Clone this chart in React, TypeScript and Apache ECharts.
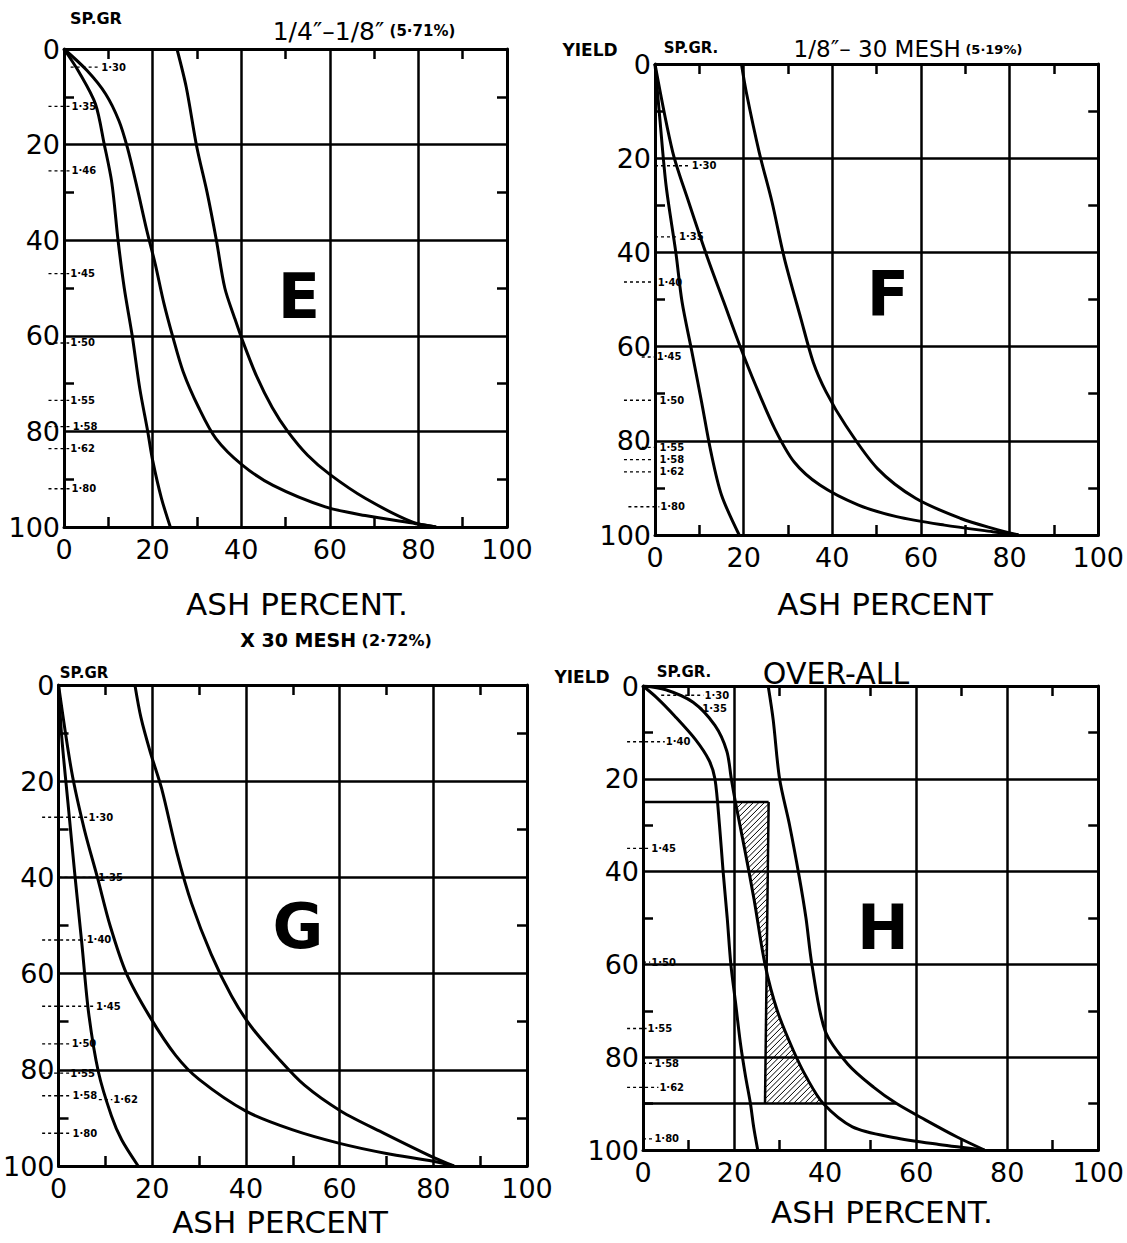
import React, { useEffect, useRef } from "react";
import * as echarts from "echarts";

// ---------- axes ----------
const ASH_MIN = 0;
const ASH_MAX = 100;
const ASH_STEP = 20;
const YIELD_MIN = 0;
const YIELD_MAX = 100;
const YIELD_STEP = 20;

// ---------- panel E : 1/4" - 1/8" ----------
const E_FLOATS = [[0, 0], [3.5, 5], [7.1, 11.5], [9.1, 20], [10.8, 28], [12.2, 40], [13.6, 50], [15.4, 60], [17.1, 71], [18.9, 80], [20, 86], [22, 94], [24, 100]];
const E_CHARACTERISTIC = [[0, 0], [5.2, 4.5], [9.4, 9.4], [12.4, 15], [14.3, 20.6], [16.5, 29], [18.7, 38], [20.6, 45], [22.5, 53], [24.5, 60], [26.9, 67.5], [30.4, 75], [34.3, 81.5], [40.2, 87], [47.2, 91.3], [59, 95.8], [68, 97.6], [79.4, 99.3], [84, 100]];
const E_SINKS = [[25.5, 0], [27.6, 8], [30, 20.6], [32.3, 30], [34.4, 40], [36.3, 50], [38.6, 56.5], [40.3, 61], [43.5, 68.5], [47, 75], [50.5, 80], [55, 85], [60, 89], [68, 94], [78.7, 99], [84, 100]];
const E_SPGR_TEXT = ["1·30", "1·35", "1·46", "1·45", "1·50", "1·55", "1·58", "1·62", "1·80"];
const E_SPGR_YIELD = [3.8, 12, 25.5, 47, 61.5, 73.5, 79, 83.6, 92];
const E_SPGR_ASH = [8.4, 1.7, 1.7, 1.4, 1.4, 1.4, 2, 1.4, 1.7];
const E_SPGR_DASH_FROM = [1.5, -3.5, -3.5, -3.5, -3.5, -3.5, -3.5, -3.5, -3.5];

// ---------- panel F : 1/8" - 30 mesh ----------
const F_FLOATS = [[0, 0], [1.1, 11.7], [2.5, 25.8], [4.7, 40], [6.1, 50.5], [8.3, 61], [10.5, 71.7], [12.6, 82.3], [15, 91.5], [19, 100]];
const F_CHARACTERISTIC = [[0, 0], [4, 18.7], [7.6, 29.3], [11.9, 41.3], [15.5, 50.5], [19.1, 59.7], [22.7, 68.2], [27, 77.4], [31.4, 84.5], [37.2, 89.4], [45.8, 93.6], [54.5, 96.1], [65.3, 97.9], [76.2, 99.3], [82, 100]];
const F_SINKS = [[19.5, 0], [20.6, 6], [23.5, 18.7], [26.4, 29.3], [29.2, 41.3], [32.9, 54], [35.7, 63.3], [38.6, 69.6], [43, 76.7], [50.2, 85.9], [58.8, 92.2], [69, 96.5], [76.2, 98.6], [82, 100]];
const F_SPGR_TEXT = ["1·30", "1·35", "1·40", "1·45", "1·50", "1·55", "1·58", "1·62", "1·80"];
const F_SPGR_YIELD = [21.6, 36.7, 46.3, 62.2, 71.4, 81.4, 84, 86.6, 94];
const F_SPGR_ASH = [8.3, 5.4, 0.6, 0.4, 1, 1, 1, 1, 1.2];
const F_SPGR_DASH_FROM = [0, 0, -7, -3, -7, -3, -7, -7, -6];

// ---------- panel G : x 30 mesh ----------
const G_FLOATS = [[0, 0], [0.7, 11], [2.1, 25.4], [3.5, 39.6], [5, 54], [6.4, 68], [8.5, 80.4], [11.3, 89.6], [13.5, 94.6], [17, 100]];
const G_CHARACTERISTIC = [[0, 0], [2.8, 18], [5.5, 30], [8.3, 40], [11, 50], [14.5, 60], [19.5, 69], [25, 77], [30, 82], [40, 88.6], [50, 92.5], [60, 95.3], [70, 97.4], [80, 99], [84.4, 100]];
const G_SINKS = [[16.3, 0], [17.6, 6.8], [19.6, 14], [22, 21.5], [25.3, 35], [28.4, 45.4], [32.6, 56], [36.9, 64.6], [41.1, 71], [46.8, 77.5], [52.5, 83.2], [60.3, 88.6], [69.5, 93.2], [80, 98.2], [84.4, 100]];
const G_SPGR_TEXT = ["1·30", "1·35", "1·40", "1·45", "1·50", "1·55", "1·58", "1·62", "1·80"];
const G_SPGR_YIELD = [27.5, 40, 53, 66.8, 74.6, 80.7, 85.4, 86.2, 93.2];
const G_SPGR_ASH = [6.4, 8.5, 6, 8, 2.8, 2.5, 3, 11.7, 3];
const G_SPGR_DASH_FROM = [-3.5, 0, -3.5, -3.5, -3.5, -3.5, -3.5, 8.6, -3.5];

// ---------- panel H : over-all ----------
const H_FLOATS = [[0, 0], [3, 2.5], [7, 6.5], [11.5, 11.5], [14.5, 16], [15.8, 20], [16.8, 30], [17.6, 40], [18.5, 50], [19.3, 60], [20.3, 68], [21.4, 77], [22.5, 84], [23.6, 90], [24.3, 95], [25.2, 100]];
const H_CHARACTERISTIC = [[0, 0], [5, 0.8], [11, 3.5], [15.8, 8.5], [18.4, 14], [19.4, 20], [20.3, 25], [22.3, 35], [24.4, 46], [26.8, 60], [29.5, 70], [33, 78.5], [36, 84.5], [39.6, 90], [46, 95], [55, 97.3], [65, 98.8], [75, 100]];
const H_SINKS = [[27.5, 0], [28.6, 7.3], [30, 20], [32.2, 30], [34.3, 41], [35.8, 50], [37.1, 60], [40, 74.3], [45, 81.5], [50.7, 86.5], [55.7, 90], [62, 93.5], [69, 97.2], [75, 100]];
const H_SPGR_TEXT = ["1·30", "1·35", "1·40", "1·45", "1·50", "1·55", "1·58", "1·62", "1·80"];
const H_SPGR_YIELD = [2, 4.8, 12, 35, 59.5, 73.8, 81.3, 86.5, 97.6];
const H_SPGR_ASH = [13.5, 13, 5, 1.8, 1.8, 1, 2.5, 3.6, 2.5];
const H_SPGR_DASH_FROM = [4, 13, -3.5, -3.5, 0, -3.5, 0, -3.5, 0];
const H_HATCH_TOP = [27.6, 25];
const H_HATCH_BOTTOM = [26.8, 90];
const H_GUIDE_25 = [[0, 25], [27.6, 25]];
const H_GUIDE_90 = [[0, 90], [55.7, 90]];

// ---------- layout (positions / styles only) ----------
const BOXES = [
  { left: 64, top: 49, width: 443, height: 478 },
  { left: 655, top: 64, width: 445, height: 471 },
  { left: 57, top: 685, width: 470, height: 481 },
  { left: 643, top: 686, width: 458, height: 464 },
];
const FONT = '"DejaVu Sans", sans-serif';
const INK = "#000";

const PANELS = [
  { floats: E_FLOATS, characteristic: E_CHARACTERISTIC, sinks: E_SINKS, text: E_SPGR_TEXT, y: E_SPGR_YIELD, x: E_SPGR_ASH, from: E_SPGR_DASH_FROM },
  { floats: F_FLOATS, characteristic: F_CHARACTERISTIC, sinks: F_SINKS, text: F_SPGR_TEXT, y: F_SPGR_YIELD, x: F_SPGR_ASH, from: F_SPGR_DASH_FROM },
  { floats: G_FLOATS, characteristic: G_CHARACTERISTIC, sinks: G_SINKS, text: G_SPGR_TEXT, y: G_SPGR_YIELD, x: G_SPGR_ASH, from: G_SPGR_DASH_FROM },
  { floats: H_FLOATS, characteristic: H_CHARACTERISTIC, sinks: H_SINKS, text: H_SPGR_TEXT, y: H_SPGR_YIELD, x: H_SPGR_ASH, from: H_SPGR_DASH_FROM },
];

function buildOption() {
  const grid = BOXES.map((b) => ({ ...b, containLabel: false }));
  const xAxis: any[] = [];
  const yAxis: any[] = [];
  const minor = { show: true, splitNumber: 2, length: 10, lineStyle: { color: INK, width: 2.5 } };
  BOXES.forEach((_, i) => {
    const common = {
      gridIndex: i,
      type: "value",
      min: ASH_MIN,
      max: ASH_MAX,
      interval: ASH_STEP,
      axisLine: { show: true, onZero: false, lineStyle: { color: INK, width: 3 } },
      axisTick: { show: false, inside: true },
      minorTick: minor,
    };
    xAxis.push({
      ...common,
      position: "bottom",
      splitLine: { show: true, lineStyle: { color: INK, width: 2.5 } },
      axisLabel: { show: true, color: INK, fontSize: 27, fontFamily: FONT, margin: 9 },
    });
    xAxis.push({ ...common, position: "top", splitLine: { show: false }, axisLabel: { show: false } });
    const ycommon = {
      gridIndex: i,
      type: "value",
      inverse: true,
      min: YIELD_MIN,
      max: YIELD_MAX,
      interval: YIELD_STEP,
      axisLine: { show: true, onZero: false, lineStyle: { color: INK, width: 3 } },
      axisTick: { show: false, inside: true },
      minorTick: minor,
    };
    yAxis.push({
      ...ycommon,
      position: "left",
      splitLine: { show: true, lineStyle: { color: INK, width: 2.5 } },
      axisLabel: { show: true, color: INK, fontSize: 27, fontFamily: FONT, margin: 4 },
    });
    yAxis.push({ ...ycommon, position: "right", splitLine: { show: false }, axisLabel: { show: false } });
  });

  const series: any[] = [];
  PANELS.forEach((p, i) => {
    const axes = { xAxisIndex: 2 * i, yAxisIndex: 2 * i };
    [p.floats, p.characteristic, p.sinks].forEach((d) => {
      series.push({
        type: "line",
        ...axes,
        data: d,
        smooth: 0.3,
        symbol: "none",
        lineStyle: { color: INK, width: 3 },
        silent: true,
      });
    });
    const labels = p.text;
    series.push({
      type: "custom",
      ...axes,
      encode: { x: 0, y: 1 },
      data: labels.map((_: string, k: number) => [p.x[k], p.y[k], k, p.from[k]]),
      renderItem: (params: any, api: any) => {
        const ash = api.value(0);
        const yv = api.value(1);
        const k = api.value(2);
        const from = api.value(3);
        const pt = api.coord([ash, yv]);
        const p0 = api.coord([0, yv]);
        const p1 = api.coord([ASH_MAX, yv]);
        const unit = (p1[0] - p0[0]) / (ASH_MAX - ASH_MIN);
        const x1 = p0[0] + from * unit;
        return {
          type: "group",
          children: [
            {
              type: "line",
              shape: { x1, y1: pt[1], x2: pt[0] - 1, y2: pt[1] },
              style: { stroke: INK, lineWidth: 1.4, lineDash: [3, 3] },
            },
            {
              type: "text",
              x: pt[0],
              y: pt[1],
              style: { text: labels[k], fill: INK, font: `bold 10px ${FONT}`, verticalAlign: "middle", align: "left" },
            },
          ],
        };
      },
    });
  });

  // panel H construction lines and hatching
  const hAxes = { xAxisIndex: 6, yAxisIndex: 6 };
  [H_GUIDE_25, H_GUIDE_90, [H_HATCH_TOP, H_HATCH_BOTTOM]].forEach((d) => {
    series.push({ type: "line", ...hAxes, data: d, symbol: "none", lineStyle: { color: INK, width: 2.5 }, silent: true });
  });
  const hatchPoly = [
    ...H_CHARACTERISTIC.filter((q) => q[1] >= H_HATCH_TOP[1] && q[1] <= H_HATCH_BOTTOM[1]),
    H_HATCH_BOTTOM,
    H_HATCH_TOP,
  ];
  series.push({
    type: "custom",
    ...hAxes,
    encode: { x: 0, y: 1 },
    data: [[H_HATCH_TOP[0], H_HATCH_TOP[1]]],
    renderItem: (params: any, api: any) => {
      const poly = hatchPoly.map((q) => api.coord(q));
      let minS = Infinity;
      let maxS = -Infinity;
      poly.forEach((q: number[]) => {
        const s = q[0] + q[1];
        if (s < minS) minS = s;
        if (s > maxS) maxS = s;
      });
      const children: any[] = [];
      for (let c = minS + 2; c < maxS; c += 5.5) {
        const xs: number[] = [];
        for (let i = 0; i < poly.length; i++) {
          const a = poly[i];
          const b = poly[(i + 1) % poly.length];
          const sa = a[0] + a[1] - c;
          const sb = b[0] + b[1] - c;
          if (sa < 0 !== sb < 0) {
            const t = sa / (sa - sb);
            xs.push(a[0] + t * (b[0] - a[0]));
          }
        }
        xs.sort((u, v) => u - v);
        for (let k = 0; k + 1 < xs.length; k += 2) {
          children.push({
            type: "line",
            shape: { x1: xs[k], y1: c - xs[k], x2: xs[k + 1], y2: c - xs[k + 1] },
            style: { stroke: INK, lineWidth: 1 },
          });
        }
      }
      return { type: "group", children };
    },
  });

  const txt = (x: number, y: number, text: string, font: string, extra: any = {}) => ({
    type: "text",
    x,
    y,
    silent: true,
    style: { text, font, fill: INK, align: "center", verticalAlign: "middle", ...extra },
  });

  const graphic = [
    // panel E
    txt(96, 18, "SP.GR", `bold 16px ${FONT}`),
    txt(364, 31, "{a|1/4″–1/8″}{b| (5·71%)}", `24px ${FONT}`, {
      rich: { a: { font: `25px ${FONT}`, fill: INK }, b: { font: `bold 15px ${FONT}`, fill: INK } },
    }),
    txt(299, 296, "E", `bold 62px ${FONT}`),
    txt(297, 604, "ASH PERCENT.", `31px ${FONT}`),
    // panel F
    txt(590, 50, "YIELD", `bold 17px ${FONT}`),
    txt(691, 48, "SP.GR.", `bold 15px ${FONT}`),
    txt(908, 49, "{a|1/8″– 30 MESH}{b| (5·19%)}", `22px ${FONT}`, {
      rich: { a: { font: `23px ${FONT}`, fill: INK }, b: { font: `bold 13px ${FONT}`, fill: INK } },
    }),
    txt(888, 293, "F", `bold 62px ${FONT}`),
    txt(885, 604, "ASH PERCENT", `31px ${FONT}`),
    // panel G
    txt(336, 640, "{a|X 30 MESH}{b| (2·72%)}", `bold 19px ${FONT}`, {
      rich: { a: { font: `bold 19px ${FONT}`, fill: INK }, b: { font: `bold 16px ${FONT}`, fill: INK } },
    }),
    txt(84, 673, "SP.GR", `bold 15px ${FONT}`),
    txt(298, 926, "G", `bold 62px ${FONT}`),
    txt(280, 1222, "ASH PERCENT", `31px ${FONT}`),
    // panel H
    txt(582, 677, "YIELD", `bold 17px ${FONT}`),
    txt(684, 672, "SP.GR.", `bold 15px ${FONT}`),
    txt(836, 673, "OVER-ALL", `30px ${FONT}`),
    txt(883, 927, "H", `bold 62px ${FONT}`),
    txt(882, 1212, "ASH PERCENT.", `31px ${FONT}`),
  ];

  return {
    animation: false,
    backgroundColor: "#fff",
    grid,
    xAxis,
    yAxis,
    series,
    graphic,
  };
}

export default function App() {
  const ref = useRef<HTMLDivElement>(null);
  useEffect(() => {
    document.body.style.margin = "0";
    if (!ref.current) return;
    const chart = echarts.init(ref.current, undefined, { renderer: "svg", width: 1127, height: 1243 });
    chart.setOption(buildOption() as any);
    return () => chart.dispose();
  }, []);
  return (
    <div
      ref={ref}
      style={{ position: "absolute", left: 0, top: 0, width: 1127, height: 1243, background: "#fff" }}
    />
  );
}
